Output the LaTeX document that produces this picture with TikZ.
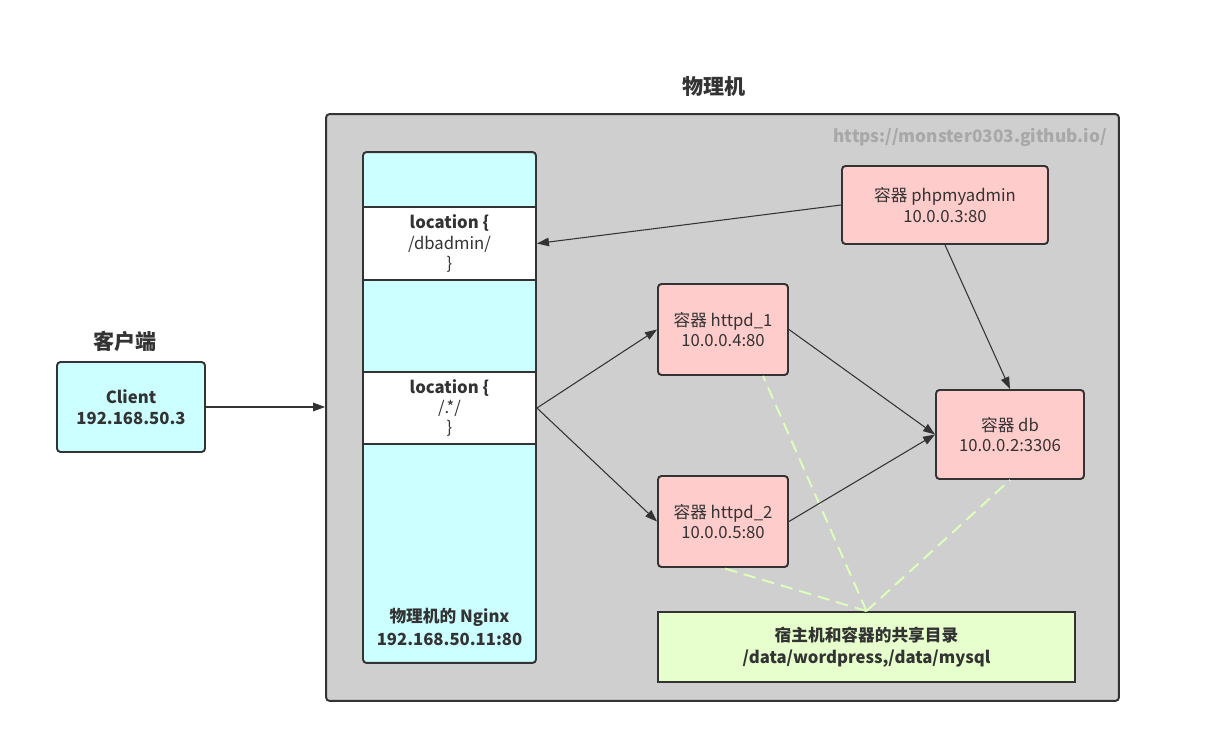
\documentclass[tikz,border=0pt]{standalone}
\usepackage{fontspec}
\setmainfont{Noto Sans CJK SC}
\usetikzlibrary{positioning, calc, arrows.meta}
\definecolor{Dark}{HTML}{333333}
\definecolor{Host}{HTML}{CFCFCF}
\definecolor{Mark}{HTML}{A8A8A8}
\definecolor{Cyan}{HTML}{CCFFFF}
\definecolor{Pink}{HTML}{FFCCCC}
\definecolor{Lime}{HTML}{E6FFCC}
\definecolor{Link}{HTML}{DDFFBB}
\tikzset{
    box/.style={rectangle, draw=Dark, line width=1.1pt, rounded corners=2pt, align=center, text=Dark, font=\fontsize{9.5}{11.5}\selectfont, inner sep=0pt},
    hostbox/.style={box, fill=Host, minimum width=15.86cm, minimum height=11.74cm},
    nginxbox/.style={box, fill=Cyan, minimum width=3.46cm, minimum height=10.22cm},
    locbox/.style={box, fill=white, rounded corners=0pt, minimum width=3.46cm, minimum height=1.45cm},
    clientbox/.style={box, fill=Cyan, font=\bfseries\fontsize{9.5}{12}\selectfont, minimum width=2.96cm, minimum height=1.8cm},
    ctbox/.style={box, fill=Pink},
    sharebox/.style={box, fill=Lime, rounded corners=0pt, font=\bfseries\fontsize{9.5}{12.5}\selectfont, minimum width=8.34cm, minimum height=1.4cm},
    title/.style={font=\bfseries\fontsize{12}{14}\selectfont, text=Dark},
    arrow/.style={-{Triangle[length=0.24cm, width=0.17cm]}, line width=0.6pt, color=Dark},
    share/.style={dash pattern=on 7pt off 4pt, line width=1.1pt, color=Link},
}
\begin{document}
\begin{tikzpicture}[x=0.02cm, y=-0.02cm]
    \useasboundingbox (0,0) rectangle (1215,744);
    % host machine
    \node[title] (hosttitle) at (714,86) {物理机};
    \node[hostbox] (host) at (722.5,407.5) {};
    \node[anchor=east, text=Mark, font=\bfseries\fontsize{9.8}{11}\selectfont] (mark) at (1113,137) {https://monster0303.github.io/};
    % nginx on the host
    \node[nginxbox] (nginx) at (449.5,407.5) {};
    \node[locbox] (loc1) at (449.5,243.5) {\textbf{location \{}\\/dbadmin/\\\}};
    \node[locbox] (loc2) at (449.5,408) {\textbf{location \{}\\/.*/\\\}};
    \node[font=\bfseries\fontsize{9.5}{13}\selectfont, text=Dark, align=center] (nginxlbl) at (449.5,627) {物理机的 Nginx\\192.168.50.11:80};
    % client
    \node[title] (clienttitle) at (125,341) {客户端};
    \node[clientbox] (client) at (131,407) {Client\\192.168.50.3};
    % containers
    \node[ctbox, minimum width=4.12cm, minimum height=1.56cm] (php) at (945,205) {容器 phpmyadmin\\10.0.0.3:80};
    \node[ctbox, minimum width=2.6cm, minimum height=1.82cm] (h1) at (723,329.5) {容器 httpd\_1\\10.0.0.4:80};
    \node[ctbox, minimum width=2.6cm, minimum height=1.82cm] (h2) at (723,521.5) {容器 httpd\_2\\10.0.0.5:80};
    \node[ctbox, minimum width=2.96cm, minimum height=1.78cm] (db) at (1010,434.5) {容器 db\\10.0.0.2:3306};
    \node[sharebox] (shared) at (866.5,647) {宿主机和容器的共享目录\\/data/wordpress,/data/mysql};

    \draw[share] (shared.north) -- ([xshift=-0.52cm]h1.south east);
    \draw[share] (shared.north) -- (h2.south);
    \draw[share] (shared.north) -- (db.south);

    \draw[arrow] (client.east) -- (client.east -| host.west);
    \draw[arrow] (php.west) -- (loc1.east);
    \draw[arrow] (loc2.east) -- (h1.west);
    \draw[arrow] (loc2.east) -- (h2.west);
    \draw[arrow] (h1.east) -- (db.west);
    \draw[arrow] (h2.east) -- (db.west);
    \draw[arrow] (php.south) -- (db.north);
\end{tikzpicture}
\end{document}
